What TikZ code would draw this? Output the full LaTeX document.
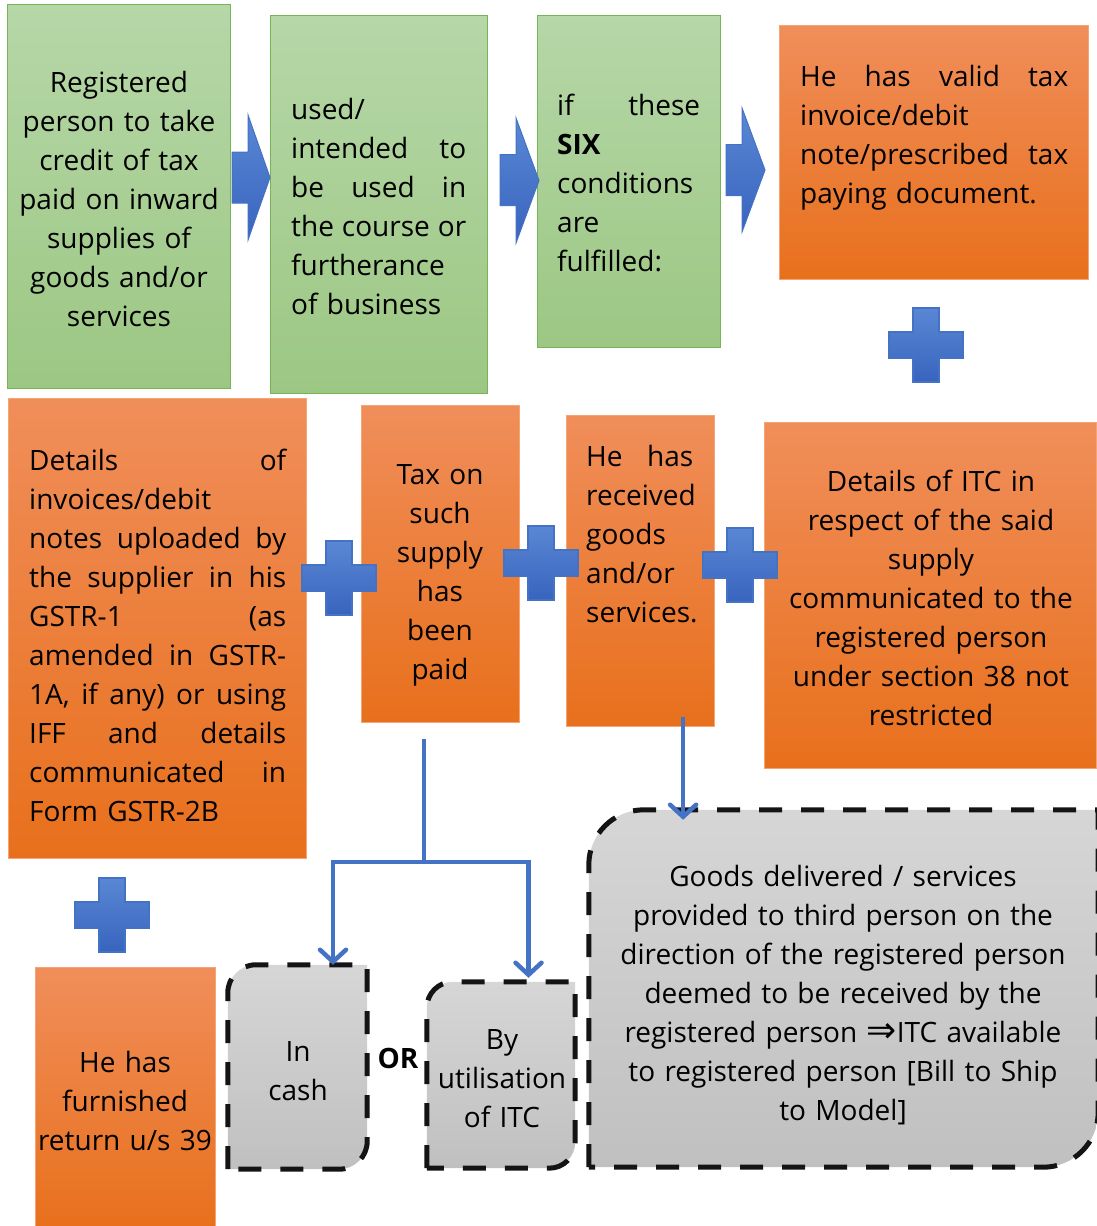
\documentclass[tikz,border=0pt]{standalone}
\usepackage{fontspec}
\setmainfont{Open Sans}
\newfontfamily\symfont{DejaVu Sans}
\usetikzlibrary{arrows.meta,backgrounds}
\definecolor{gtop}{RGB}{182,215,168}
\definecolor{gbot}{RGB}{156,199,131}
\definecolor{gedge}{RGB}{118,180,85}
\definecolor{otop}{RGB}{240,142,90}
\definecolor{obot}{RGB}{232,112,28}
\definecolor{oedge}{RGB}{244,165,115}
\definecolor{dtop}{RGB}{214,214,214}
\definecolor{dbot}{RGB}{192,192,192}
\definecolor{btop}{RGB}{90,135,212}
\definecolor{bbot}{RGB}{56,100,190}
\definecolor{bedge}{RGB}{68,114,196}
\newcommand{\jl}[2]{\makebox[#1][s]{\spaceskip=0.28em plus 1fil minus 0.1em\relax #2}}
\newcommand{\dashedframe}[2]{%
  \path[dbox] (#1.south west) [rounded corners=#2] -- (#1.north west) -- (#1.north)
    [sharp corners] -- (#1.north east) -- (#1.east)
    [rounded corners=#2] -- (#1.south east) -- (#1.south)
    [sharp corners] -- cycle;}
\begin{document}
\begin{tikzpicture}[x=1pt,y=-1pt,
  fnt/.style={font=\fontsize{28}{39}\selectfont},
  bx/.style={anchor=north west, inner sep=0pt, line width=1.2pt},
  gbox/.style={bx, draw=gedge, top color=gtop, bottom color=gbot},
  obox/.style={bx, draw=oedge, top color=otop, bottom color=obot},
  fr/.style={inner sep=0pt},
  txtc/.style={fnt, inner sep=0pt, anchor=base, align=center},
  txtl/.style={fnt, inner sep=0pt, anchor=base west, align=left},
  dbox/.style={draw=black!92, line width=5pt, dash pattern=on 23pt off 19pt, top color=dtop, bottom color=dbot},
  plusst/.style={draw=bedge, line width=2pt, top color=btop, bottom color=bbot},
  barrow/.style={draw=bedge, line width=1pt, top color=btop, bottom color=bbot},
  conn/.style={draw=bedge, line width=4.5pt},
  arr/.style={-{Straight Barb[length=12pt,width=26pt,line cap=round]}},
  plussign/.pic={\path[plusst] (-37,-13) -- (-13,-13) -- (-13,-37) -- (13,-37) -- (13,-13) -- (37,-13) -- (37,13) -- (13,13) -- (13,37) -- (-13,37) -- (-13,13) -- (-37,13) -- cycle;}
]
\useasboundingbox (0,0) rectangle (1096,1226);

% ---- boxes
\node[gbox, minimum width=223pt, minimum height=384pt] (b1) at (7,4) {};
\node[gbox, minimum width=217pt, minimum height=378pt] (b2) at (270,15) {};
\node[gbox, minimum width=183pt, minimum height=332pt] (b3) at (537,15) {};
\node[obox, minimum width=309pt, minimum height=254pt] (b4) at (779,25) {};
\node[obox, minimum width=298pt, minimum height=460pt] (b5) at (8,398) {};
\node[obox, minimum width=158pt, minimum height=317pt] (b6) at (361,405) {};
\node[obox, minimum width=148pt, minimum height=311pt] (b7) at (566,415) {};
\node[obox, minimum width=332pt, minimum height=346pt] (b8) at (764,422) {};
\node[obox, minimum width=180pt, minimum height=261pt] (b9) at (35,967) {};

% ---- texts
\node[txtc, text width=220pt] (t1) at (119,92) {Registered\\person to take\\credit of tax\\paid on inward\\supplies of\\goods and/or\\services};
\node[txtl, text width=175pt] (t2) at (291,119) {used/\\\jl{175pt}{intended to}\\\jl{175pt}{be used in}\\\jl{175pt}{the course or}\\furtherance\\of business};
\node[txtl, text width=143pt] (t3) at (557,115) {\jl{143pt}{if these}\\\textbf{SIX}\\conditions\\are\\fulfilled:};
\node[txtl, text width=268pt] (t4) at (800,86) {\jl{268pt}{He has valid tax}\\invoice/debit\\\jl{268pt}{note/prescribed tax}\\paying document.};
\node[txtl, text width=257pt] (t5) at (29,470) {\jl{257pt}{Details of}\\invoices/debit\\\jl{257pt}{notes uploaded by}\\\jl{257pt}{the supplier in his}\\\jl{257pt}{GSTR-1 (as}\\\jl{257pt}{amended in GSTR-}\\\jl{257pt}{1A, if any) or using}\\\jl{257pt}{IFF and details}\\\jl{257pt}{communicated in}\\Form GSTR-2B};
\node[txtc, text width=150pt] (t6) at (440,484) {Tax on\\such\\supply\\has\\been\\paid};
\node[txtl, text width=107pt] (t7) at (586,466) {\jl{107pt}{He has}\\received\\goods\\and/or\\services.};
\node[txtc, text width=325pt] (t8) at (931,491) {Details of ITC in\\respect of the said\\supply\\communicated to the\\registered person\\under section 38 not\\restricted};
\node[txtc, text width=178pt] (t9) at (125,1072) {He has\\furnished\\return u/s 39};
\node[fnt, font=\fontsize{28}{39}\selectfont\bfseries, inner sep=0pt, anchor=base] (or) at (398,1068) {OR};

% ---- dashed boxes
\node[fr, minimum width=139pt, minimum height=204pt] (g1) at (297.5,1067) {};
\node[fr, minimum width=148pt, minimum height=186pt] (g2) at (501,1075) {};
\node[fr, minimum width=509pt, minimum height=357pt] (g3) at (843.5,988.5) {};
\begin{pgfonlayer}{background}
\dashedframe{g1}{28pt}
\dashedframe{g2}{26pt}
\dashedframe{g3}{55pt}
\end{pgfonlayer}
\node[txtc, text width=130pt] (u1) at (298,1061) {In\\cash};
\node[txtc, text width=145pt] (u2) at (502,1049) {By\\utilisation\\of ITC};
\node[txtc, text width=490pt] (u3) at (843,886) {Goods delivered / services\\provided to third person on the\\direction of the registered person\\deemed to be received by the\\registered person {\symfont\fontsize{36}{39}\selectfont ⇒}ITC available\\to registered person [Bill to Ship\\to Model]};

% ---- block arrows
\path[barrow] (232,152) -- (248,152) -- (248,115) -- (270,177.5) -- (248,240) -- (248,203) -- (232,203) -- cycle;
\path[barrow] (500,154.5) -- (516,154.5) -- (516,118) -- (539,180.5) -- (516,243) -- (516,205.5) -- (500,205.5) -- cycle;
\path[barrow] (726,144.5) -- (742,144.5) -- (742,108) -- (765,170) -- (742,232) -- (742,195.5) -- (726,195.5) -- cycle;

% ---- plus signs
\pic at (926,345) {plussign};
\pic at (339,578) {plussign};
\pic at (541,563) {plussign};
\pic at (740,565) {plussign};
\pic at (112,915) {plussign};

% ---- connectors
\coordinate (split) at (424,862);
\draw[conn] ([yshift=-16pt]b6.south -| split) -- (split);
\draw[conn,arr] (split) -| ([xshift=35.5pt]g1.north);
\draw[conn,arr] (split) -| ([shift={(27.5pt,4pt)}]g2.north);
\coordinate (a7) at ([shift={(42.5pt,10pt)}]b7.south);
\draw[conn,arr] (a7) -- ([yshift=-10pt]a7 |- g3.north);
\end{tikzpicture}
\end{document}
